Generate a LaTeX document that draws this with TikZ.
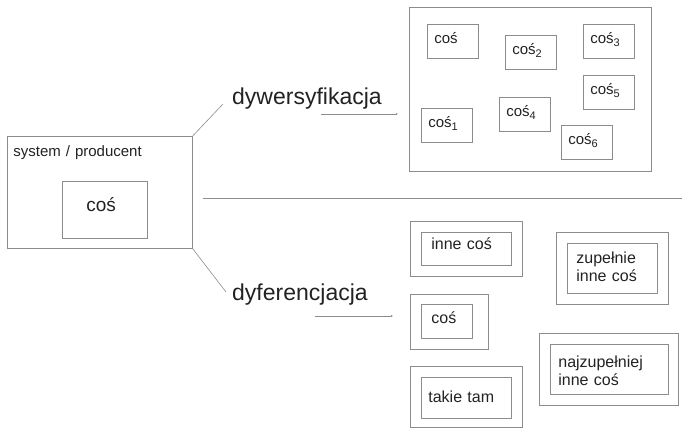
\documentclass[tikz,border=0pt]{standalone}
\usepackage{fontspec}
\setmainfont{Liberation Sans}
\usetikzlibrary{arrows.meta}
\definecolor{linegray}{HTML}{8C8C8C}
\definecolor{inkgray}{HTML}{222222}
\newcommand\idx[1]{\raisebox{-3pt}{\fontsize{11}{11}\selectfont #1}}
\tikzset {
    frame/.style = {draw = linegray, line width = 0.7pt},
    plain box/.style = {frame, anchor = north west, inner sep = 0pt},
    item/.style = {
        frame, anchor = north west, align = left,
        inner xsep = 7pt, inner ysep = 0pt,
        text width = 37pt, text height = 19pt, text depth = 15pt,
        font = \fontsize{15}{18}\selectfont
    },
    wide item/.style = {
        frame, anchor = north west, align = left,
        inner ysep = 0pt, font = \fontsize{16}{18}\selectfont
    },
    word/.style = {
        anchor = base west, inner sep = 0pt,
        font = \fontsize{23}{27}\selectfont
    },
    link/.style = {draw = linegray, line width = 0.6pt},
    thin arrow/.style = {link, -{Latex[length = 2pt, width = 2pt]}},
}
\begin{document}
\begin{tikzpicture}[x = 1pt, y = -1pt, text = inkgray]
    \useasboundingbox (0, 0) rectangle (682, 428);
    % system / producent
    \node (sys) [item, inner xsep = 6pt, text width = 173pt,
        text height = 20pt, text depth = 92pt] at (7, 136) {system / producent};
    \node (core) [item, inner xsep = 24pt, text width = 37pt,
        text height = 30pt, text depth = 27pt,
        font = \fontsize{19}{22}\selectfont] at (62, 181) {coś};
    % the two ways
    \node (dyw) [word] at (232, 104) {dywersyfikacja};
    \node (dyf) [word] at (232, 300) {dyferencjacja};
    \draw [link] (sys.north east) -- ([shift = {(-9, 0)}] dyw.base west);
    \draw [link] (sys.south east) -- ([shift = {(-6, -8)}] dyf.base west);
    \coordinate (dyw from) at (321, 114);
    \coordinate (dyw to) at (398, 114);
    \coordinate (dyf from) at (315, 316);
    \coordinate (dyf to) at (393, 316);
    \draw [thin arrow] (dyw from) -- (dyw to);
    \draw [thin arrow] (dyf from) -- (dyf to);
    \coordinate (sep l) at (203, 198);
    \coordinate (sep r) at (682, 198);
    \draw [link] (sep l) -- (sep r);
    % dywersyfikacja
    \node (div) [plain box, minimum width = 242, minimum height = 164] at (409, 7) {};
    \node (c0) [item] at (427, 24) {coś};
    \node (c1) [item] at (421, 108) {coś\idx{1}};
    \node (c2) [item] at (505, 35) {coś\idx{2}};
    \node (c3) [item] at (583, 24) {coś\idx{3}};
    \node (c4) [item] at (499, 97) {coś\idx{4}};
    \node (c5) [item] at (583, 75) {coś\idx{5}};
    \node (c6) [item] at (561, 125) {coś\idx{6}};
    % dyferencjacja
    \node (a out) [plain box, minimum width = 112, minimum height = 55] at (410, 221) {};
    \node (a in) [wide item, inner xsep = 10pt, text width = 70pt,
        text height = 17pt, text depth = 16pt] at (421, 232) {inne coś};
    \node (b out) [plain box, minimum width = 112, minimum height = 72] at (556, 232) {};
    \node (b in) [wide item, inner xsep = 9pt, text width = 72pt,
        text height = 20pt, text depth = 30pt] at (567, 243) {zupełnie\\inne coś};
    \node (c out) [plain box, minimum width = 78, minimum height = 55] at (410, 294) {};
    \node (c in) [wide item, inner xsep = 10pt, text width = 31pt,
        text height = 19pt, text depth = 15pt] at (421, 304) {coś};
    \node (d out) [plain box, minimum width = 139, minimum height = 72] at (539, 333) {};
    \node (d in) [wide item, inner xsep = 8pt, text width = 102pt,
        text height = 23pt, text depth = 27pt] at (550, 344) {najzupełniej\\inne coś};
    \node (e out) [plain box, minimum width = 112, minimum height = 61] at (410, 366) {};
    \node (e in) [wide item, inner xsep = 7pt, text width = 76pt,
        text height = 25pt, text depth = 16pt] at (421, 377) {takie tam};
\end{tikzpicture}
\end{document}
